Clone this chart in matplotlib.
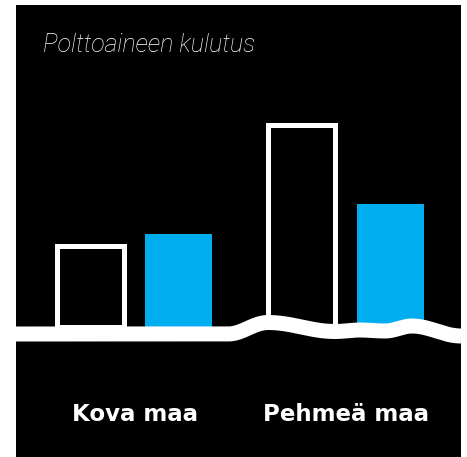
import numpy as np
import matplotlib
matplotlib.use("Agg")
import matplotlib.pyplot as plt

# ---- data ----
title = "Polttoaineen kulutus"
categories = ["Kova maa", "Pehmeä maa"]
outline_values = [81, 202]   # white outlined bars
blue_values = [93, 123]      # blue filled bars

BLUE = "#00AEEF"
W, H = 467, 457
fig = plt.figure(figsize=(W / 100, H / 100), dpi=100, facecolor="white")

# black panel
bg = fig.add_axes([16 / W, 0, 445 / W, 452 / H])
bg.set_facecolor("black")
bg.set_xticks([]); bg.set_yticks([])
for s in bg.spines.values():
    s.set_visible(False)

# bar axes: bottom = ground level
base_px = 327
ax = fig.add_axes([16 / W, (H - base_px) / H, 445 / W, (base_px - 5) / H])
ax.set_facecolor("none")
ax.set_xlim(-0.562, 1.544)
ax.set_ylim(0, base_px - 5)
ax.axis("off")

x = np.arange(len(categories))
off = 0.209
bw = 0.317
ax.bar(x - off, outline_values, width=bw, facecolor="black",
       edgecolor="white", linewidth=3.6, zorder=2)
ax.bar(x + off, blue_values, width=bw, color=BLUE, linewidth=0, zorder=2)

for xi, lab in zip(x, categories):
    ax.text(xi, -0.273, lab, transform=ax.get_xaxis_transform(),
            ha="center", va="center", color="white", fontsize=16.5,
            fontweight="bold", family=["DejaVu Sans"])

# overlay in pixel coordinates for ground and title
ov = fig.add_axes([0, 0, 1, 1])
ov.set_xlim(0, W); ov.set_ylim(H, 0)
ov.axis("off")

# ground decoration (cosine-smoothed between extremum points)
gx = [16, 228, 268, 335, 360, 385, 412, 461]
gy = [334, 334, 322.5, 331.5, 330, 331, 326, 336]
xs, ys = [], []
for i in range(len(gx) - 1):
    t = np.linspace(0, 1, 40)
    s = (1 - np.cos(np.pi * t)) / 2
    xs.extend(gx[i] + (gx[i + 1] - gx[i]) * t)
    ys.extend(gy[i] + (gy[i + 1] - gy[i]) * s)
ov.plot(xs, ys, color="white", linewidth=10.8, solid_capstyle="butt",
        solid_joinstyle="round", zorder=5)

ov.text(43, 45, title, color="white", fontsize=18, style="italic",
        fontweight="light", family=["Roboto", "DejaVu Sans"],
        ha="left", va="center")

fig.savefig("out.png", dpi=100, facecolor="white")
